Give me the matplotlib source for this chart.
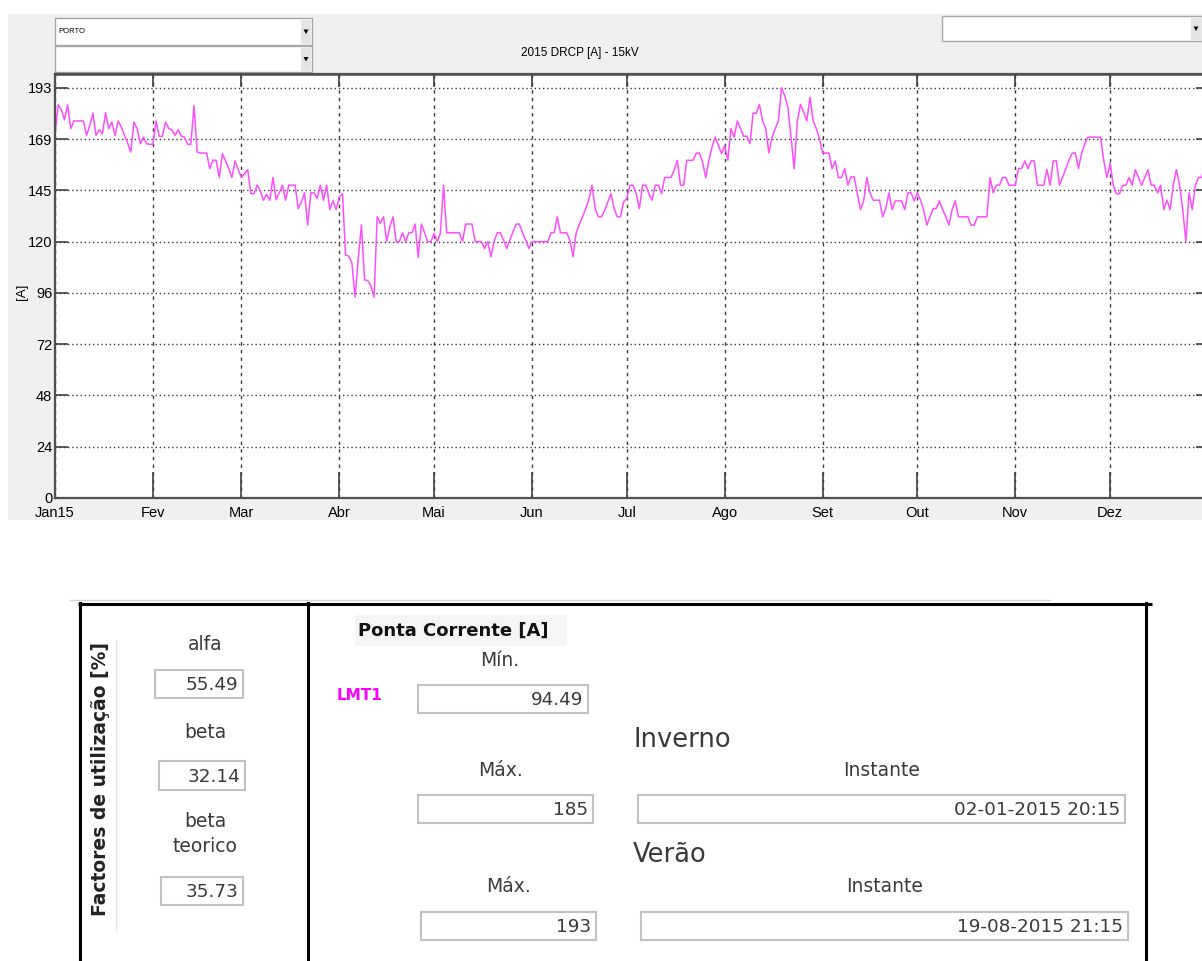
import datetime as dt

import numpy as np
import matplotlib
matplotlib.use('Agg')
import matplotlib.pyplot as plt
from matplotlib.patches import Rectangle, Polygon

# daily peak current [A], 2015 (one value per day)
jan = [170.6, 185.0, 182.7, 178.0, 185.0, 173.8, 177.4, 177.4, 177.4, 177.4, 170.6, 175.3, 181.1, 170.6, 173.3,
       171.4, 181.3, 173.8, 176.9, 170.6, 177.4, 174.5, 170.6, 167.0, 162.8, 176.9, 173.8, 166.7, 169.8, 166.7, 166.4]
fev = [166.4, 177.4, 170.2, 170.2, 176.9, 173.8, 173.3, 170.6, 173.3, 170.2, 169.8, 166.4, 166.4, 184.6,
       162.8, 162.3, 162.3, 162.3, 155.0, 158.9, 158.9, 150.8, 162.0, 158.6, 155.0, 150.8, 158.6, 154.5]
mar = [150.8, 152.6, 154.5, 143.2, 143.2, 147.2, 144.5, 140.1, 142.9, 140.1, 150.8, 140.4, 143.6, 147.2, 140.1,
       147.2, 147.2, 147.2, 136.2, 139.3, 143.6, 128.4, 143.6, 143.6, 140.9, 147.2, 140.1, 147.2, 135.7, 139.8, 135.7]
abr = [141.7, 143.2, 114.3, 113.8, 110.4, 94.5, 112.7, 128.4, 102.6, 102.3, 99.8, 94.5, 132.3, 129.2, 132.3,
       120.6, 127.6, 132.3, 120.6, 120.6, 124.8, 120.6, 124.8, 124.8, 128.9, 113.2, 128.9, 124.8, 120.6, 120.6]
mai = [124.5, 120.6, 124.5, 147.2, 124.8, 124.8, 124.8, 124.8, 124.8, 120.6, 128.9, 128.9, 128.9, 120.6, 120.6,
       120.6, 117.4, 120.6, 113.5, 120.6, 124.8, 124.8, 121.3, 117.4, 121.3, 125.3, 128.9, 128.9, 124.8, 121.3, 117.4]
jun = [120.6, 120.6, 120.6, 120.6, 120.6, 120.6, 124.8, 124.8, 132.3, 124.8, 124.8, 124.8, 121.3, 113.5, 124.8,
       128.9, 132.3, 136.2, 140.4, 147.2, 136.2, 132.3, 132.3, 135.4, 139.3, 143.2, 136.2, 132.3, 132.3, 139.3]
jul = [140.9, 147.2, 147.2, 143.2, 136.2, 147.2, 147.2, 143.2, 140.1, 147.2, 147.2, 143.2, 150.8, 150.8, 150.8,
       154.2, 158.9, 147.2, 147.2, 158.9, 158.9, 158.9, 162.3, 162.3, 158.1, 150.8, 158.9, 165.2, 169.8, 165.9, 162.0]
ago = [165.9, 158.9, 173.8, 169.8, 177.4, 173.8, 170.2, 170.2, 166.7, 181.1, 181.1, 185.2, 177.4, 173.8, 162.3,
       169.8, 173.8, 177.4, 193.0, 189.4, 183.9, 169.8, 155.0, 177.4, 185.2, 181.6, 177.4, 188.6, 177.4, 173.8, 169.1]
set_ = [162.3, 162.3, 162.3, 155.0, 158.6, 150.8, 150.8, 155.0, 147.2, 151.1, 151.1, 143.2, 135.7, 139.8, 150.8,
        143.6, 140.1, 140.1, 140.1, 132.3, 136.2, 143.6, 135.7, 139.8, 139.8, 139.8, 135.7, 143.6, 143.6, 139.8]
out = [143.6, 140.1, 135.4, 128.4, 132.3, 136.2, 136.2, 139.8, 135.7, 132.3, 128.4, 135.7, 139.8, 132.3, 132.3,
       132.3, 132.3, 128.4, 128.4, 132.3, 132.3, 132.3, 132.3, 150.8, 143.6, 147.2, 147.2, 150.8, 150.8, 147.2, 147.2]
nov = [147.2, 155.0, 155.0, 158.6, 155.0, 158.6, 158.6, 147.2, 147.2, 147.2, 154.5, 147.2, 158.6, 158.6, 147.2,
       151.1, 155.0, 158.9, 162.3, 162.3, 155.0, 162.3, 166.7, 169.8, 169.8, 169.8, 169.8, 169.8, 158.9, 150.8]
dez = [157.6, 147.2, 143.2, 143.2, 147.2, 147.2, 150.8, 147.2, 154.5, 150.8, 147.2, 150.8, 154.5, 147.2, 147.2,
       143.6, 147.2, 135.7, 140.1, 135.7, 147.2, 154.5, 147.2, 135.7, 120.6, 143.6, 135.7, 147.2, 150.8, 150.8, 157.3]

values = jan + fev + mar + abr + mai + jun + jul + ago + set_ + out + nov + dez
start = dt.datetime(2015, 1, 1)
dates = [start + dt.timedelta(days=i) for i in range(len(values))]

month_labels = ['Jan15', 'Fev', 'Mar', 'Abr', 'Mai', 'Jun', 'Jul', 'Ago', 'Set', 'Out', 'Nov', 'Dez']
month_ticks = [dt.datetime(2015, m, 1) for m in range(1, 13)]
y_ticks = np.linspace(0, 193, 9)
y_labels = ['0', '24', '48', '72', '96', '120', '145', '169', '193']

title = '2015 DRCP [A] - 15kV'
region = 'PORTO'

factor_names = ['alfa', 'beta', 'beta\nteorico']
factor_values = ['55.49', '32.14', '35.73']
feeder = 'LMT1'
min_value = '94.49'
winter_max, winter_when = '185', '02-01-2015 20:15'
summer_max, summer_when = '193', '19-08-2015 21:15'

W, H = 1202, 961
NARROW = ['Liberation Sans', 'DejaVu Sans']
TXT = '#3a3a3a'

fig = plt.figure(figsize=(W / 100, H / 100), dpi=100)
fig.patch.set_facecolor('white')

# pixel-space background layer for the GUI widgets
bg = fig.add_axes([0, 0, 1, 1], zorder=0)
bg.set_xlim(0, W)
bg.set_ylim(H, 0)
bg.axis('off')

bg.add_patch(Rectangle((8, 14), W - 8, 506, facecolor='#f0f0f0', edgecolor='none'))


def dropdown(x0, y0, x1, y1, text=''):
    bg.add_patch(Rectangle((x0, y0), x1 - x0, y1 - y0, facecolor='white', edgecolor='#a8a8a8', lw=1))
    bg.add_patch(Rectangle((x1 - 11, y0 + 1.5), 10, y1 - y0 - 3, facecolor='#e4e4e4', edgecolor='none'))
    ym = (y0 + y1) / 2
    bg.add_patch(Polygon([[x1 - 8.5, ym - 2], [x1 - 3.5, ym - 2], [x1 - 6, ym + 2.5]], closed=True,
                         facecolor='black', edgecolor='none'))
    if text:
        bg.text(x0 + 3, ym, text, fontsize=5.5, family=NARROW, va='center', ha='left', color='black')


dropdown(55, 18, 312, 45, region)
dropdown(55, 46, 312, 72)
dropdown(942, 16, 1202, 41)

bg.text(580, 53, title, fontsize=8.5, family=NARROW, ha='center', va='center', color='black')
bg.text(22, 292, '[A]', fontsize=9.5, family=NARROW, ha='center', va='center', rotation=90, color='black')

# chart
ax_l, ax_r, ax_t, ax_b = 55, 1208, 74, 498
ax = fig.add_axes([ax_l / W, 1 - ax_b / H, (ax_r - ax_l) / W, (ax_b - ax_t) / H], zorder=2)
ax.set_facecolor('white')
ax.plot(dates, values, color='#ff4dff', lw=1.1)

ax.set_xlim(start, dt.datetime(2016, 1, 1))
ax.set_ylim(0, 199.5)
ax.set_xticks(month_ticks)
ax.set_xticklabels(month_labels)
ax.set_yticks(y_ticks)
ax.set_yticklabels(y_labels)

ax.grid(True, axis='y', color='#3c3c3c', lw=1.0, linestyle=(0, (1, 2)))
ax.grid(True, axis='x', color='#3c3c3c', lw=1.0, linestyle=(0, (2.5, 3)))
ax.tick_params(axis='y', direction='in', length=9, width=1.2, color='#404040', left=True, right=True,
               pad=2, labelsize=10.5)
ax.tick_params(axis='x', direction='in', length=19, width=1.2, color='#404040', bottom=True, top=False,
               pad=6, labelsize=10.5)
for lab in ax.get_xticklabels() + ax.get_yticklabels():
    lab.set_family(NARROW)
for side in ['left', 'bottom', 'top', 'right']:
    ax.spines[side].set_color('#505050')
    ax.spines[side].set_linewidth(1.6)

top = ax.secondary_xaxis('top')
top.set_xticks(month_ticks)
top.set_xticklabels([])
top.tick_params(direction='in', length=9, width=1.2, color='#404040')
top.spines['top'].set_color('#505050')
top.spines['top'].set_linewidth(1.8)

# bottom panel frame
K = 2.2
bg.plot([70, 1050], [600, 600], color='#d4d4d4', lw=1)
bg.plot([78, 1152], [604, 604], color='black', lw=K, solid_capstyle='butt')
bg.plot([79.5, 79.5], [603, H], color='black', lw=K)
bg.plot([308, 308], [603, H], color='black', lw=K)
bg.plot([1146, 1146], [603, H], color='black', lw=K)
bg.plot([116, 116], [640, 930], color='#e6e6e6', lw=1)


def field(x0, y0, x1, y1, text):
    bg.add_patch(Rectangle((x0, y0), x1 - x0, y1 - y0, facecolor='white', edgecolor='#c2c2c2', lw=1.5))
    bg.text(x1 - 5, (y0 + y1) / 2 + 1, text, fontsize=13.2, ha='right', va='center', color=TXT)


# left sub-panel: utilisation factors
bg.text(101, 779, 'Factores de utilização [%]', rotation=90, ha='center', va='center',
        fontsize=13.5, fontweight='bold', color='#222222')
label_y = [645, 733, 834]
field_box = [(155, 670, 243, 698), (159, 761, 245, 790), (161, 877, 243, 905)]
for name, val, ly, fb in zip(factor_names, factor_values, label_y, field_box):
    bg.text(205, ly, name, fontsize=13.5, ha='center', va='center', color=TXT, linespacing=1.45)
    field(*fb, val)

# right sub-panel: peak current
bg.add_patch(Rectangle((355, 615), 212, 31, facecolor='#f5f5f5', edgecolor='none'))
bg.text(358, 631, 'Ponta Corrente [A]', fontsize=13, fontweight='bold', ha='left', va='center', color='#111111')
bg.text(500, 661, 'Mín.', fontsize=13.5, ha='center', va='center', color=TXT)
bg.text(337, 695, feeder, fontsize=11, fontweight='bold', ha='left', va='center', color='#ff00ff')
field(418, 685, 588, 713, min_value)

bg.text(633, 740, 'Inverno', fontsize=18.5, ha='left', va='center', color=TXT)
bg.text(500, 770, 'Máx.', fontsize=13.5, ha='center', va='center', color=TXT)
bg.text(882, 770, 'Instante', fontsize=13.5, ha='center', va='center', color=TXT)
field(418, 795, 593, 823, winter_max)
field(638, 795, 1125, 823, winter_when)

bg.text(633, 855, 'Verão', fontsize=18.5, ha='left', va='center', color=TXT)
bg.text(509, 887, 'Máx.', fontsize=13.5, ha='center', va='center', color=TXT)
bg.text(885, 887, 'Instante', fontsize=13.5, ha='center', va='center', color=TXT)
field(421, 912, 596, 940, summer_max)
field(641, 912, 1128, 940, summer_when)

fig.savefig('out.png', dpi=100)
